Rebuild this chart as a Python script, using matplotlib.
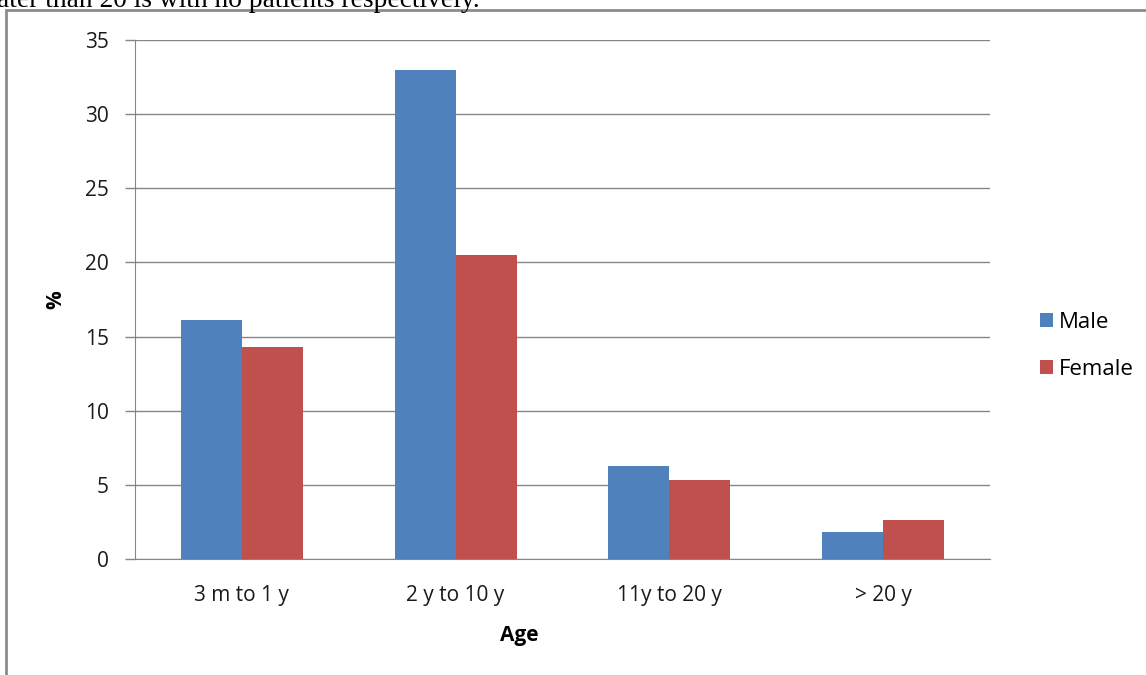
import matplotlib
matplotlib.use("Agg")
import matplotlib.pyplot as plt
from matplotlib.patches import Rectangle
import numpy as np

categories = ["3 m to 1 y", "2 y to 10 y", "11y to 20 y", "> 20 y"]
male = [16.1, 33.0, 6.3, 1.8]
female = [14.3, 20.5, 5.3, 2.6]
series_names = ["Male", "Female"]
y_ticks = [0, 5, 10, 15, 20, 25, 30, 35]

W, H = 1146, 675
fig = plt.figure(figsize=(W / 100, H / 100), dpi=100)
plt.rcParams["font.family"] = ["Open Sans", "DejaVu Sans"]

# clipped caption line from the surrounding document
fig.text(-3 / W, 1 - 7 / H, "ater than 20 is with no patients respectively.",
         family="Liberation Serif", fontsize=19.8, ha="left", va="baseline",
         color="black")

# chart frame
fig.patches.append(Rectangle((6 / W, -0.1), 1.2, 1.1 - 10 / H,
                             transform=fig.transFigure, fill=False,
                             edgecolor="#8c8c8c", linewidth=2, zorder=0))

ax = fig.add_axes([135 / W, (H - 559) / H, (990 - 135) / W, (559 - 40) / H])

x = np.arange(len(categories))
bw = 1 / 3.5
ax.bar(x - bw / 2, male, width=bw, color="#4F81BD", label=series_names[0], zorder=3)
ax.bar(x + bw / 2, female, width=bw, color="#C0504D", label=series_names[1], zorder=3)

ax.set_xlim(-0.5, len(categories) - 0.5)
ax.set_ylim(0, 35)
ax.set_yticks(y_ticks)
ax.set_yticklabels([str(t) for t in y_ticks], fontsize=15, color="#1a1a1a")
ax.set_xticks(x)
ax.set_xticklabels(categories, fontsize=15, color="#1a1a1a")
ax.tick_params(axis="x", length=0, pad=19)
ax.tick_params(axis="y", length=7, width=1, color="#868686", pad=12)

ax.yaxis.grid(True, color="#868686", linewidth=1)
ax.set_axisbelow(True)
for s in ["top", "right"]:
    ax.spines[s].set_visible(False)
ax.spines["left"].set_color("#868686")
ax.spines["bottom"].set_color("#868686")

ax.set_xlabel("Age", fontsize=15, fontweight="bold")
ax.xaxis.set_label_coords((519 - 135) / 855, (559 - 636) / 519)
ax.xaxis.label.set_verticalalignment("center")
ax.set_ylabel("%", fontsize=15, fontweight="bold")
ax.yaxis.set_label_coords((56 - 135) / 855, 0.5)
ax.yaxis.label.set_verticalalignment("center")

leg = ax.legend(loc="center left", bbox_to_anchor=(1024 / W, 1 - 346 / H),
                bbox_transform=fig.transFigure, frameon=False, fontsize=16,
                handlelength=0.6, handleheight=0.6, handletextpad=0.25,
                labelspacing=1.15, borderpad=0.2)

fig.savefig("out.png", dpi=100)
